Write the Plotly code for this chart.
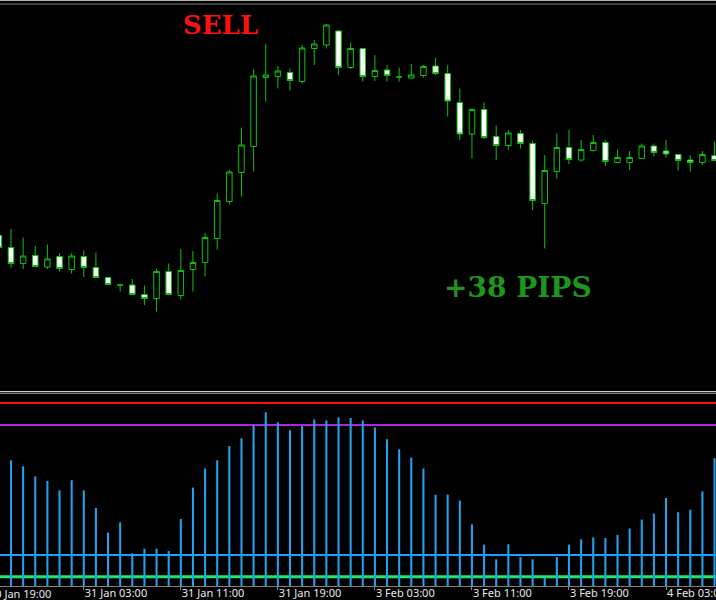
import plotly.graph_objects as go

# ---- data (hourly candles, index -1 .. 58) ----
bar_index = list(range(-1, 59))
opens = [1.35529, 1.35505, 1.35473, 1.35489, 1.35466, 1.35487, 1.35461, 1.35487, 1.35465, 1.35445,
         1.35430, 1.35430, 1.35411, 1.35403, 1.35457, 1.35409, 1.35461, 1.35475, 1.35523, 1.35597,
         1.35655, 1.35707, 1.35845, 1.35847, 1.35855, 1.35837, 1.35903, 1.35910, 1.35938, 1.35865,
         1.35903, 1.35847, 1.35860, 1.35846, 1.35844, 1.35849, 1.35868, 1.35853, 1.35795, 1.35732,
         1.35781, 1.35727, 1.35709, 1.35733, 1.35713, 1.35593, 1.35657, 1.35705, 1.35680, 1.35699,
         1.35715, 1.35675, 1.35675, 1.35683, 1.35708, 1.35698, 1.35691, 1.35680, 1.35675, 1.35689]
highs = [1.35532, 1.35542, 1.35525, 1.35508, 1.35511, 1.35494, 1.35494, 1.35499, 1.35495, 1.35447,
         1.35432, 1.35442, 1.35429, 1.35463, 1.35473, 1.35502, 1.35498, 1.35534, 1.35613, 1.35660,
         1.35745, 1.35862, 1.35912, 1.35868, 1.35863, 1.35910, 1.35920, 1.35952, 1.35939, 1.35915,
         1.35904, 1.35890, 1.35870, 1.35865, 1.35872, 1.35870, 1.35885, 1.35870, 1.35823, 1.35783,
         1.35795, 1.35749, 1.35740, 1.35740, 1.35719, 1.35690, 1.35733, 1.35740, 1.35720, 1.35730,
         1.35720, 1.35701, 1.35698, 1.35713, 1.35713, 1.35720, 1.35692, 1.35690, 1.35698, 1.35717]
lows = [1.35502, 1.35465, 1.35462, 1.35466, 1.35462, 1.35457, 1.35453, 1.35446, 1.35444, 1.35430,
        1.35417, 1.35410, 1.35390, 1.35377, 1.35410, 1.35401, 1.35417, 1.35447, 1.35501, 1.35591,
        1.35607, 1.35657, 1.35797, 1.35823, 1.35819, 1.35833, 1.35870, 1.35903, 1.35850, 1.35862,
        1.35837, 1.35838, 1.35837, 1.35837, 1.35843, 1.35845, 1.35850, 1.35767, 1.35720, 1.35683,
        1.35722, 1.35680, 1.35700, 1.35703, 1.35580, 1.35503, 1.35643, 1.35672, 1.35677, 1.35697,
        1.35668, 1.35674, 1.35660, 1.35682, 1.35687, 1.35685, 1.35659, 1.35657, 1.35670, 1.35678]
closes = [1.35505, 1.35473, 1.35488, 1.35467, 1.35482, 1.35463, 1.35488, 1.35465, 1.35445, 1.35431,
          1.35430, 1.35411, 1.35403, 1.35457, 1.35411, 1.35459, 1.35475, 1.35525, 1.35599, 1.35656,
          1.35710, 1.35848, 1.35850, 1.35858, 1.35839, 1.35904, 1.35912, 1.35950, 1.35865, 1.35903,
          1.35847, 1.35859, 1.35849, 1.35846, 1.35850, 1.35867, 1.35853, 1.35798, 1.35732, 1.35781,
          1.35725, 1.35709, 1.35734, 1.35713, 1.35599, 1.35659, 1.35705, 1.35681, 1.35701, 1.35715,
          1.35677, 1.35685, 1.35685, 1.35708, 1.35695, 1.35692, 1.35679, 1.35675, 1.35691, 1.35679]

# ---- indicator histogram (index 0 .. 58) ----
hist_index = list(range(0, 59))
hist_values = [68.7, 65.4, 59.9, 57.4, 52.3, 57.8, 52.3, 42.6, 29.2, 34.8,
               17.9, 20.4, 20.4, 19.1, 36.6, 53.8, 64.2, 68.7, 76.5, 80.7,
               87.8, 94.9, 89.5, 85.1, 87.4, 91.1, 90.5, 92.2, 91.8, 90.5,
               86.7, 80.2, 74.7, 70.2, 64.2, 49.9, 49.9, 46.7, 33.7, 22.6,
               14.6, 22.8, 15.8, 14.6, 4.6, 15.8, 22.6, 25.5, 26.6, 26.2,
               27.9, 31.4, 36.3, 39.6, 48.1, 40.3, 41.7, 51.7, 69.8]
level_values = [100, 88, 17, 5]
level_colors = ["#ff1010", "#a428e6", "#1ea0ff", "#1ee870"]
level_widths = [2, 2, 2, 3]

# ---- time axis labels ----
tick_index = [6, 14, 22, 30, 38, 46, 54]
tick_text = ["31 Jan 03:00", "31 Jan 11:00", "31 Jan 19:00", "3 Feb 03:00",
             "3 Feb 11:00", "3 Feb 19:00", "4 Feb 03:00"]
first_label = "30 Jan 19:00"

H_PLOT = 586.0
def pf(ypx):
    return (H_PLOT - ypx) / H_PLOT

x_range = [-0.907, 58.12]

fig = go.Figure()
fig.add_trace(go.Candlestick(
    x=bar_index, open=opens, high=highs, low=lows, close=closes,
    increasing=dict(line=dict(color="#10c010", width=1), fillcolor="black"),
    decreasing=dict(line=dict(color="#10c010", width=1), fillcolor="white"),
    whiskerwidth=0, xaxis="x", yaxis="y", hoverinfo="skip"))

fig.add_trace(go.Bar(
    x=hist_index, y=hist_values, width=0.17,
    marker=dict(color="#22a2ee", line=dict(width=0)),
    xaxis="x2", yaxis="y2", hoverinfo="skip"))

shapes = []
for v, c, w in zip(level_values, level_colors, level_widths):
    shapes.append(dict(type="line", xref="paper", x0=0, x1=1, yref="y2", y0=v, y1=v,
                       line=dict(color=c, width=w), layer="below"))
# frame / separator lines
shapes.append(dict(type="line", xref="paper", x0=0, x1=1, yref="paper",
                   y0=pf(391.7), y1=pf(391.7), line=dict(color="#ffffff", width=1)))
shapes.append(dict(type="line", xref="paper", x0=0, x1=1, yref="paper",
                   y0=pf(393.5), y1=pf(393.5), line=dict(color="#808080", width=1)))
shapes.append(dict(type="line", xref="paper", x0=0, x1=1, yref="paper",
                   y0=pf(0.5), y1=pf(0.5), line=dict(color="#b0b0b0", width=1)))
shapes.append(dict(type="line", xref="paper", x0=0, x1=1, yref="paper",
                   y0=pf(4), y1=pf(4), line=dict(color="#808080", width=1)))

annotations = [
    dict(text="SELL", x=17.3, y=1.359506, xref="x", yref="y", showarrow=False,
         font=dict(family="DejaVu Serif", size=26, color="#ff1010", weight="bold"),
         xanchor="center", yanchor="middle"),
    dict(text="+38 PIPS", x=41.8, y=1.35425, xref="x", yref="y", showarrow=False,
         font=dict(family="DejaVu Serif", size=28, color="#1e961e", weight="bold"),
         xanchor="center", yanchor="middle"),
    dict(text=first_label, x=-13.0 / 716, y=pf(586), xref="paper", yref="paper",
         showarrow=False, xanchor="left", yanchor="top", yshift=2,
         font=dict(family="Noto Sans", size=11, color="#e8e8e8")),
]

fig.update_layout(
    width=716, height=600,
    margin=dict(l=0, r=0, t=0, b=14),
    paper_bgcolor="black", plot_bgcolor="black",
    showlegend=False, boxgap=0.35,
    shapes=shapes, annotations=annotations,
    xaxis=dict(range=x_range, visible=False, anchor="y", rangeslider=dict(visible=False),
               fixedrange=True),
    yaxis=dict(domain=[pf(390), 1], range=[1.36 - 0.00002 * 390, 1.36], visible=False),
    xaxis2=dict(range=x_range, anchor="y2", showgrid=False, zeroline=False,
                showline=True, linecolor="#808080", linewidth=1,
                ticks="outside", ticklen=3, tickcolor="#808080",
                tickvals=tick_index, ticktext=tick_text,
                ticklabelposition="outside right", ticklabeloverflow="allow",
                ticklabelstandoff=-3,
                tickfont=dict(family="Noto Sans", size=11, color="#e8e8e8"),
                automargin=False),
    yaxis2=dict(domain=[0, pf(395)], range=[0, (H_PLOT - 395) / 1.83], visible=False),
)

fig.write_html("out.html", config={"displayModeBar": False},
               post_script="document.body.style.margin='0';document.body.style.background='black';")
